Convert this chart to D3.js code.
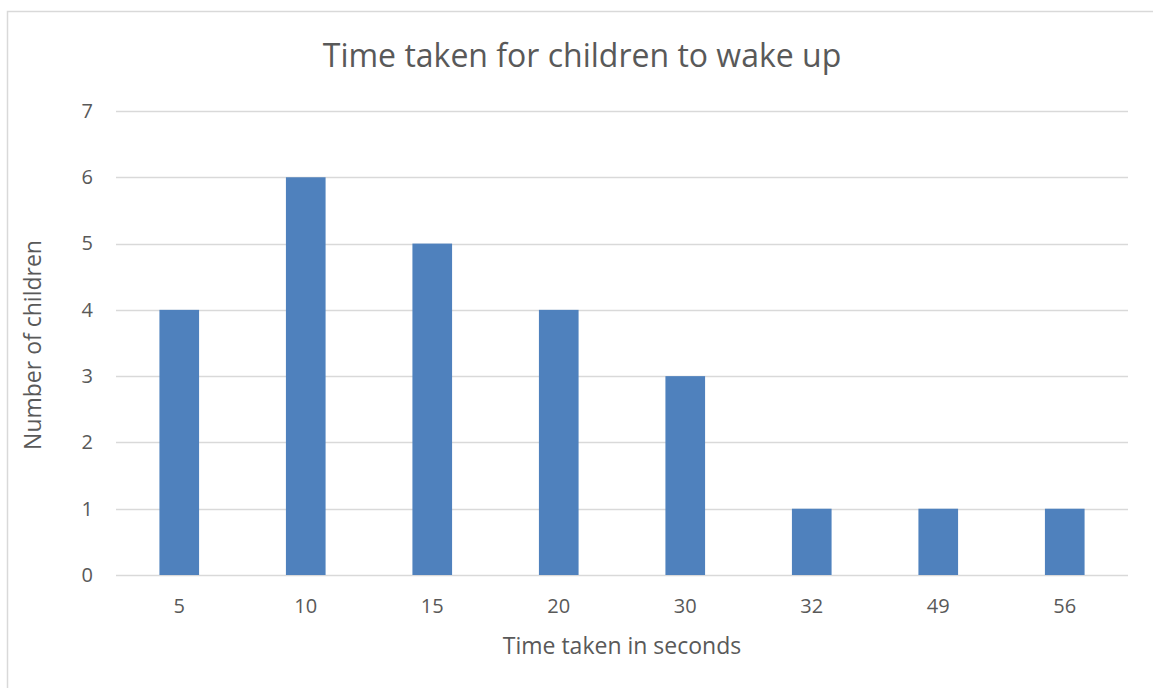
<!DOCTYPE html>
<html>
<head>
<meta charset="utf-8">
<script src="https://cdn.jsdelivr.net/npm/d3@7"></script>
<style>
  html, body { margin: 0; padding: 0; background: #fff; }
  svg text { font-family: "Open Sans", "Noto Sans", sans-serif; fill: #595959; }
</style>
</head>
<body>
<svg id="chart" width="1153" height="688"></svg>
<script>
// Wake-up times (seconds) and how many children took each time
const categories = ["5", "10", "15", "20", "30", "32", "49", "56"];
const counts = [4, 6, 5, 4, 3, 1, 1, 1];
const yTicks = [0, 1, 2, 3, 4, 5, 6, 7];

const titleText = "Time taken for children to wake up";
const xTitle = "Time taken in seconds";
const yTitle = "Number of children";

const svg = d3.select("#chart");

// Outer chart frame
svg.append("rect")
  .attr("x", 7.5).attr("y", 11.5)
  .attr("width", 1160).attr("height", 700)
  .attr("fill", "#fff")
  .attr("stroke", "#d9d9d9")
  .attr("stroke-width", 1.5);

const plot = { left: 116, right: 1128, top: 111, bottom: 575 };

const x = d3.scaleBand()
  .domain(categories)
  .range([plot.left, plot.right])
  .paddingInner(0.6865)
  .paddingOuter(0.34325);

const y = d3.scaleLinear()
  .domain([0, 7])
  .range([plot.bottom, plot.top]);

// Horizontal gridlines
svg.append("g")
  .selectAll("line")
  .data(yTicks)
  .join("line")
  .attr("x1", plot.left).attr("x2", plot.right)
  .attr("y1", d => Math.round(y(d)) + 0.5)
  .attr("y2", d => Math.round(y(d)) + 0.5)
  .attr("stroke", "#d9d9d9")
  .attr("stroke-width", 1.3);

// Bars
svg.append("g")
  .selectAll("rect")
  .data(counts)
  .join("rect")
  .attr("x", (d, i) => x(categories[i]))
  .attr("width", x.bandwidth())
  .attr("y", d => y(d))
  .attr("height", d => y(0) - y(d))
  .attr("fill", "#4f81bd");

// Y axis labels
const yAxis = svg.append("g")
  .attr("transform", `translate(${plot.left - 23},0)`)
  .call(d3.axisLeft(y).tickValues(yTicks).tickFormat(d3.format("d")).tickSize(0).tickPadding(0));
yAxis.select(".domain").remove();
yAxis.selectAll("text")
  .attr("font-size", 20)
  .attr("fill", "#595959")
  .style("font-family", "'Open Sans', sans-serif");

// X axis labels
const xAxis = svg.append("g")
  .attr("transform", `translate(0,${plot.bottom})`)
  .call(d3.axisBottom(x).tickSize(0).tickPadding(24));
xAxis.select(".domain").remove();
xAxis.selectAll("text")
  .attr("font-size", 20)
  .attr("fill", "#595959")
  .style("font-family", "'Open Sans', sans-serif");

// Titles
svg.append("text")
  .attr("x", 582).attr("y", 67)
  .attr("text-anchor", "middle")
  .attr("font-size", 32)
  .text(titleText);

svg.append("text")
  .attr("x", 622).attr("y", 654)
  .attr("text-anchor", "middle")
  .attr("font-size", 23)
  .text(xTitle);

svg.append("text")
  .attr("transform", "translate(41,345) rotate(-90)")
  .attr("text-anchor", "middle")
  .attr("font-size", 23)
  .text(yTitle);
</script>
</body>
</html>
